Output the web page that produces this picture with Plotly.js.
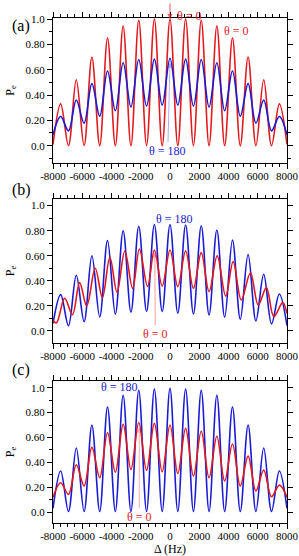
<!DOCTYPE html>
<html>
<head>
<meta charset="utf-8">
<script src="https://cdn.plot.ly/plotly-3.0.1.min.js"></script>
<style>html,body{margin:0;padding:0;background:#fff;}#chart{width:299px;height:556px;}</style>
</head>
<body>
<div id="chart"></div>
<script>
// Detuning positions of fringe maxima/minima (Hz)
const detuning = [-8000, -7476, -6942, -6408, -5874, -5340, -4806, -4272, -3738, -3204, -2670, -2136, -1602, -1068, -534, 0,
  534, 1068, 1602, 2136, 2670, 3204, 3738, 4272, 4806, 5340, 5874, 6408, 6942, 7476, 8000];

// Panel (a)
const redA  = [0.01, 0.33, 0, 0.52, 0, 0.70, 0, 0.85, 0, 0.945, 0, 0.99, 0, 1.0, 0, 1.0, 0, 1.0, 0, 0.99, 0, 0.945, 0, 0.85, 0, 0.70, 0, 0.52, 0, 0.33, 0.01];
const blueA = [0.085, 0.23, 0.117, 0.36, 0.177, 0.49, 0.232, 0.59, 0.276, 0.655, 0.305, 0.68, 0.313, 0.683, 0.32, 0.69, 0.32, 0.683, 0.313, 0.68, 0.305, 0.655, 0.276, 0.59, 0.232, 0.49, 0.177, 0.36, 0.117, 0.23, 0.085];

// Panel (b)
const blueB = [0.06, 0.29, 0.042, 0.445, 0.074, 0.60, 0.112, 0.722, 0.134, 0.80, 0.15, 0.835, 0.155, 0.85, 0.154, 0.85, 0.141, 0.846, 0.136, 0.84, 0.128, 0.806, 0.109, 0.726, 0.093, 0.61, 0.08, 0.452, 0.056, 0.295, 0.042];
const redBx = [-8000, -7760, -7203, -6669, -6180, -5692, -5112, -4624, -4112, -3624, -3090, -2556, -2090, -1534, -1068, -534, 0,
  534, 1068, 1602, 2136, 2670, 3227, 3806, 4318, 4874, 5500, 6034, 6590, 7102, 7704, 8000];
const redB  = [0.08, 0.065, 0.261, 0.13, 0.386, 0.20, 0.50, 0.265, 0.588, 0.31, 0.638, 0.34, 0.654, 0.355, 0.645, 0.359, 0.646,
  0.354, 0.638, 0.34, 0.625, 0.314, 0.599, 0.279, 0.553, 0.247, 0.465, 0.207, 0.346, 0.114, 0.226, 0.14];

// Panel (c)
const redC  = [0.12, 0.236, 0.142, 0.38, 0.21, 0.52, 0.276, 0.638, 0.32, 0.705, 0.343, 0.72, 0.335, 0.713, 0.324, 0.70, 0.31, 0.673, 0.29, 0.65, 0.276, 0.61, 0.25, 0.547, 0.21, 0.45, 0.169, 0.338, 0.123, 0.217, 0.12];
const blueC = [0.03, 0.33, 0.005, 0.515, 0.005, 0.70, 0.005, 0.845, 0.005, 0.94, 0.005, 0.98, 0.005, 0.99, 0.005, 0.995, 0.005, 0.99, 0.005, 0.98, 0.005, 0.94, 0.005, 0.845, 0.005, 0.70, 0.005, 0.515, 0.005, 0.33, 0.03];

// Tick labels
const xTickVals = [-8000, -6000, -4000, -2000, 0, 2000, 4000, 6000, 8000];
const xTickText = ['-8000', '-6000', '-4000', '-2000', '0', '2000', '4000', '6000', '8000'];
const yTickVals = [0, 0.2, 0.4, 0.6, 0.8, 1.0];
const yTickText = ['0.0', '0.20', '0.40', '0.60', '0.80', '1.0'];

const RED = '#e0191e', BLUE = '#1a1ad2';
const FONT = 'Liberation Serif';

function tr(x, y, color, xa, ya) {
  return {x: x, y: y, xaxis: xa, yaxis: ya, type: 'scatter', mode: 'lines',
    line: {color: color, width: 1.6, shape: 'spline', smoothing: 1}, hoverinfo: 'skip', showlegend: false};
}
const data = [
  tr(detuning, redA, RED, 'x', 'y'),
  tr(detuning, blueA, BLUE, 'x', 'y'),
  tr(detuning, blueB, BLUE, 'x2', 'y2'),
  tr(redBx, redB, RED, 'x2', 'y2'),
  tr(detuning, blueC, BLUE, 'x3', 'y3'),
  tr(detuning, redC, RED, 'x3', 'y3')
];

const xd = [53/299, 287/299];
function xax(anchor, title) {
  const a = {domain: xd, anchor: anchor, range: [-8000, 8000], tickvals: xTickVals, ticktext: xTickText,
    ticks: 'outside', ticklen: 5, tickwidth: 1, tickcolor: '#000', showline: true, linecolor: '#000', linewidth: 1,
    mirror: 'ticks', showgrid: false, zeroline: false, tickfont: {family: FONT, size: 11, color: '#000'},
    ticklabelstandoff: -2,
    minor: {dtick: 500, tick0: 0, ticks: 'outside', ticklen: 3, tickcolor: '#000', showgrid: false}};
  if (title) a.title = {text: title, font: {family: FONT, size: 12, color: '#000'}, standoff: 2};
  return a;
}
function yax(anchor, dom, range) {
  return {domain: dom, anchor: anchor, range: range, tickvals: yTickVals, ticktext: yTickText,
    ticks: 'outside', ticklen: 5, tickwidth: 1, tickcolor: '#000', showline: true, linecolor: '#000', linewidth: 1,
    mirror: 'ticks', showgrid: false, zeroline: false, tickfont: {family: FONT, size: 11, color: '#000'},
    minor: {dtick: 0.1, tick0: 0, ticks: 'outside', ticklen: 3, tickcolor: '#000', showgrid: false},
    title: {text: 'P<sub>e</sub>', font: {family: FONT, size: 12, color: '#000'}, standoff: 8}};
}
const H = 556;
const layout = {
  width: 299, height: 556, autosize: false,
  margin: {l: 0, r: 0, t: 0, b: 0},
  paper_bgcolor: '#fff', plot_bgcolor: '#fff',
  font: {family: FONT},
  xaxis: xax('y'), yaxis: yax('x', [1-163/H, 1-18/H], [-0.137, 1.008]),
  xaxis2: xax('y2'), yaxis2: yax('x2', [1-343/H, 1-199/H], [-0.096, 1.053]),
  xaxis3: xax('y3', 'Δ (Hz)'), yaxis3: yax('x3', [1-523/H, 1-381/H], [-0.088, 1.054]),
  annotations: [
    {text: '(a)', xref: 'paper', yref: 'paper', x: 10/299, y: 1-15/H, showarrow: false, font: {family: FONT, size: 16, color: '#000'}},
    {text: '(b)', xref: 'paper', yref: 'paper', x: 10/299, y: 1-190/H, showarrow: false, font: {family: FONT, size: 16, color: '#000'}},
    {text: '(c)', xref: 'paper', yref: 'paper', x: 10/299, y: 1-370/H, showarrow: false, font: {family: FONT, size: 16, color: '#000'}},
    // (a)
    {text: '', xref: 'x', yref: 'y', x: 0, y: 1.0, ax: 0, ay: -17, showarrow: true, arrowhead: 2, arrowsize: 1, arrowwidth: 1, arrowcolor: 'rgba(224,25,30,0.7)'},
    {text: 'θ = 0', xref: 'x', yref: 'paper', x: 340, y: 1-7/H, xanchor: 'left', showarrow: false, font: {family: FONT, size: 12, color: RED}},
    {text: 'θ = 0', xref: 'x', yref: 'y', x: 4560, y: 0.905, showarrow: false, font: {family: FONT, size: 12, color: RED}},
    {text: 'θ = 180', xref: 'x', yref: 'y', x: 0, y: 0.655, axref: 'x', ayref: 'y', ax: -150, ay: -0.04, showarrow: true,
      arrowhead: 2, arrowsize: 1, arrowwidth: 1, arrowcolor: 'rgba(26,26,210,0.35)', font: {family: FONT, size: 12, color: BLUE}},
    // (b)
    {text: 'θ = 180', xref: 'x2', yref: 'y2', x: 320, y: 0.89, showarrow: false, font: {family: FONT, size: 12, color: BLUE}},
    {text: 'θ = 0', xref: 'x2', yref: 'y2', x: -1040, y: 0.625, axref: 'x2', ayref: 'y2', ax: -1005, ay: -0.024, showarrow: true,
      arrowhead: 2, arrowsize: 1, arrowwidth: 1, arrowcolor: 'rgba(224,25,30,0.4)', font: {family: FONT, size: 12, color: RED}},
    // (c)
    {text: 'θ = 180', xref: 'x3', yref: 'y3', x: -3474, y: 1.008, showarrow: false, font: {family: FONT, size: 12, color: BLUE}},
    {text: 'θ = 0', xref: 'x3', yref: 'y3', x: -2100, y: 0.68, axref: 'x3', ayref: 'y3', ax: -2100, ay: -0.038, showarrow: true,
      arrowhead: 2, arrowsize: 1, arrowwidth: 1, arrowcolor: 'rgba(224,25,30,0.35)', font: {family: FONT, size: 12, color: RED}}
  ]
};
Plotly.newPlot('chart', data, layout, {staticPlot: true, displayModeBar: false});
</script>
</body>
</html>
